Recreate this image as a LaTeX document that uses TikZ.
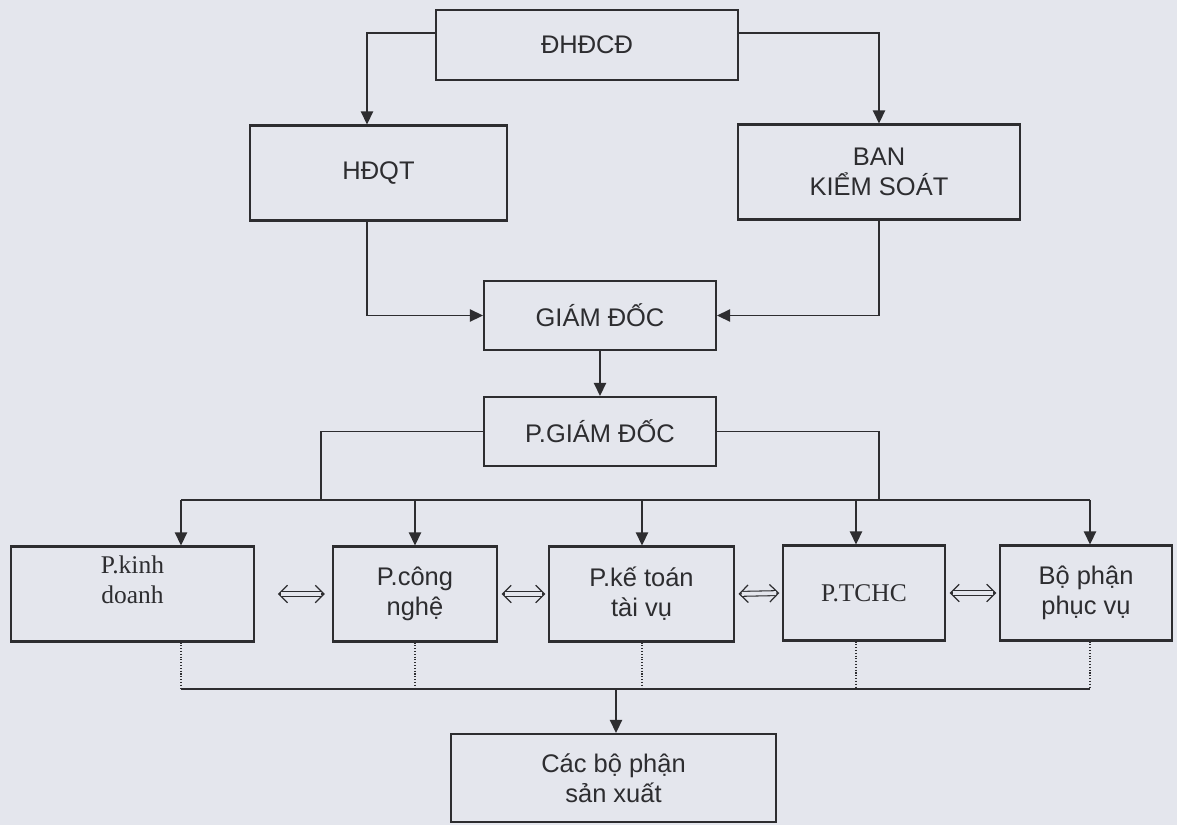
\documentclass[tikz,border=0pt]{standalone}
\usepackage{fontspec}
\setmainfont{Liberation Sans}
\newfontfamily\serifont{Liberation Serif}
\usetikzlibrary{arrows.meta}
\definecolor{giay}{RGB}{228,230,237}
\definecolor{muc}{RGB}{45,45,48}
\tikzset{
  box/.style={draw=muc, line width=1.2pt, inner sep=0pt, align=center, text=muc,
    font=\fontsize{14.5}{17}\selectfont, minimum height=1.9cm},
  arr/.style={draw=muc, line width=1.1pt, -{Triangle[length=7.5pt,width=7pt]}},
  ln/.style={draw=muc, line width=1.1pt},
  dots/.style={draw=muc, line width=0.6pt, densely dotted},
  dbltip/.style={draw=muc, line width=0.7pt,
    {Straight Barb[length=5pt,width=10pt]}-{Straight Barb[length=5pt,width=10pt]}},
  dblshaft/.style={draw=muc, line width=0.6pt, double=giay, double distance=2.2pt},
}
\begin{document}
\begin{tikzpicture}[x=0.02cm, y=-0.02cm]
  % nen giay
  \fill[giay] (0,0) rectangle (1177,825);

  % cap tren
  \node[box, minimum width=6.04cm, minimum height=1.4cm] (dhdcd) at (587,45) {ĐHĐCĐ};
  \node[box, minimum width=5.14cm] (hdqt) at (378.5,173) {HĐQT};
  \node[box, minimum width=5.64cm] (bks) at (879,172) {BAN\\KIỂM SOÁT};
  \node[box, minimum width=4.64cm, minimum height=1.38cm] (gd) at (600,315.5) {GIÁM ĐỐC};
  \node[box, minimum width=4.64cm, minimum height=1.38cm] (pgd) at (600,431.5) {P.GIÁM ĐỐC};

  % cac phong ban
  \node[box, minimum width=4.86cm,
    label={[font=\serifont\fontsize{14.5}{17}\selectfont, text=muc, align=center, yshift=8pt]center:{P.kinh\\doanh}}] (pkd) at (132.5,594) {};
  \node[box, minimum width=3.28cm] (pcn) at (415,594) {P.công\\nghệ};
  \node[box, minimum width=3.7cm] (pkt) at (641.5,594) {P.kế toán\\tài vụ};
  \node[box, minimum width=3.24cm, font=\serifont\fontsize{14.5}{17}\selectfont] (ptchc) at (864,593) {P.TCHC};
  \node[box, minimum width=3.44cm] (bppv) at (1086,593) {Bộ phận\\phục vụ};
  \node[box, minimum width=6.5cm, minimum height=1.76cm] (cbp) at (613.5,778) {Các bộ phận\\sản xuất};

  % diem re nhanh
  \coordinate (jl) at (367,33);
  \coordinate (jr) at (879,33);
  \coordinate (pl) at (321,500);
  \coordinate (pr) at (879,500);
  \coordinate (bb) at (0,689);
  \coordinate (bm) at (616,689);
  \coordinate (t-pkd) at (181,500);
  \coordinate (t-pcn) at (415,500);
  \coordinate (t-pkt) at (642,500);
  \coordinate (t-ptchc) at (856,500);
  \coordinate (t-bppv) at (1090,500);

  % duong noi
  \draw[arr] (dhdcd.west |- jl) -- (jl) -- (jl |- hdqt.north);
  \draw[arr] (dhdcd.east |- jr) -- (jr) -- (jr |- bks.north);
  \draw[arr] (jl |- hdqt.south) |- (gd.west);
  \draw[arr] (jr |- bks.south) |- (gd.east);
  \draw[arr] (gd) -- (pgd);
  \draw[ln] (pgd.west) -| (pl);
  \draw[ln] (pgd.east) -| (pr);
  \draw[ln] (t-pkd) -- (t-bppv);
  \draw[ln] (t-pkd |- bb) -- (t-bppv |- bb);
  \foreach \n in {pkd,pcn,pkt,ptchc,bppv} {
    \draw[arr] (t-\n) -- (t-\n |- \n.north);
    \draw[dots] (t-\n |- \n.south) -- (t-\n |- bb);
  }
  \draw[arr] (bm) -- (bm |- cbp.north);

  % quan he ngang
  \draw[dbltip, shorten <=13pt, shorten >=4pt] (pkd.east) -- (pcn.west);
  \draw[dblshaft, shorten <=15pt, shorten >=6pt] (pkd.east) -- (pcn.west);
  \foreach \a/\b in {pcn/pkt, pkt/ptchc, ptchc/bppv} {
    \draw[dbltip, shorten <=2pt, shorten >=1.5pt] (\a.east) -- (\b.west);
    \draw[dblshaft, shorten <=4pt, shorten >=3.5pt] (\a.east) -- (\b.west);
  }
\end{tikzpicture}
\end{document}
